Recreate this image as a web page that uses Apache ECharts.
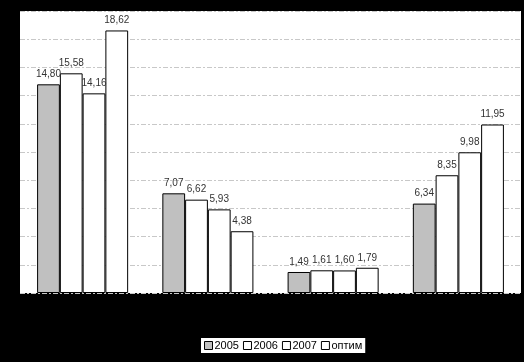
<!DOCTYPE html>
<html><head><meta charset="utf-8">
<script src="https://cdn.jsdelivr.net/npm/echarts@6/dist/echarts.min.js"></script>
<style>html,body{margin:0;padding:0;background:#000}#c{width:524px;height:362px}</style>
</head><body><div id="c"></div>
<script>
const categories = ['1', '2', '3', '4'];
const s2005 = [14.80, 7.07, 1.49, 6.34];
const s2006 = [15.58, 6.62, 1.61, 8.35];
const s2007 = [14.16, 5.93, 1.60, 9.98];
const sOptim = [18.62, 4.38, 1.79, 11.95];
const seriesNames = ['2005', '2006', '2007', 'оптим'];
const fills = ['#c0c0c0', '#ffffff', '#ffffff', '#ffffff'];
const all = [s2005, s2006, s2007, sOptim];

const chart = echarts.init(document.getElementById('c'));
chart.setOption({
  backgroundColor: '#000',
  animation: false,
  grid: {left: 20, top: 11, right: 3, bottom: 69, show: true, backgroundColor: '#fff', borderWidth: 0},
  legend: {
    left: 201, top: 338, width: 162,
    backgroundColor: '#fff', padding: [2, 3, 2, 3], itemGap: 4,
    itemWidth: 8, itemHeight: 8, icon: 'rect',
    textStyle: {color: '#000', fontSize: 11, fontFamily: 'Liberation Sans', padding: [0, 0, 0, -3]},
    data: seriesNames.map((n, i) => ({name: n, itemStyle: {color: fills[i], borderColor: '#000', borderWidth: 1}}))
  },
  xAxis: {type: 'category', data: categories, axisLine: {show: false}, axisTick: {show: false}, axisLabel: {show: false}},
  yAxis: {type: 'value', min: 0, max: 20, interval: 2, axisLabel: {show: false}, axisLine: {show: false}, axisTick: {show: false},
    splitLine: {lineStyle: {color: '#c8c8c8', type: [5, 2, 2, 2], width: 1}}},
  series: all.map((d, i) => ({
    name: seriesNames[i], type: 'bar', data: d, barGap: '0%', barCategoryGap: '27.3%',
    itemStyle: {color: fills[i], borderColor: '#000', borderWidth: 1},
    label: {show: true, position: 'top', distance: 5, color: '#333', fontSize: 10, fontFamily: 'Liberation Sans',
      formatter: p => p.value.toFixed(2).replace('.', ',')}
  }))
});
</script></body></html>
